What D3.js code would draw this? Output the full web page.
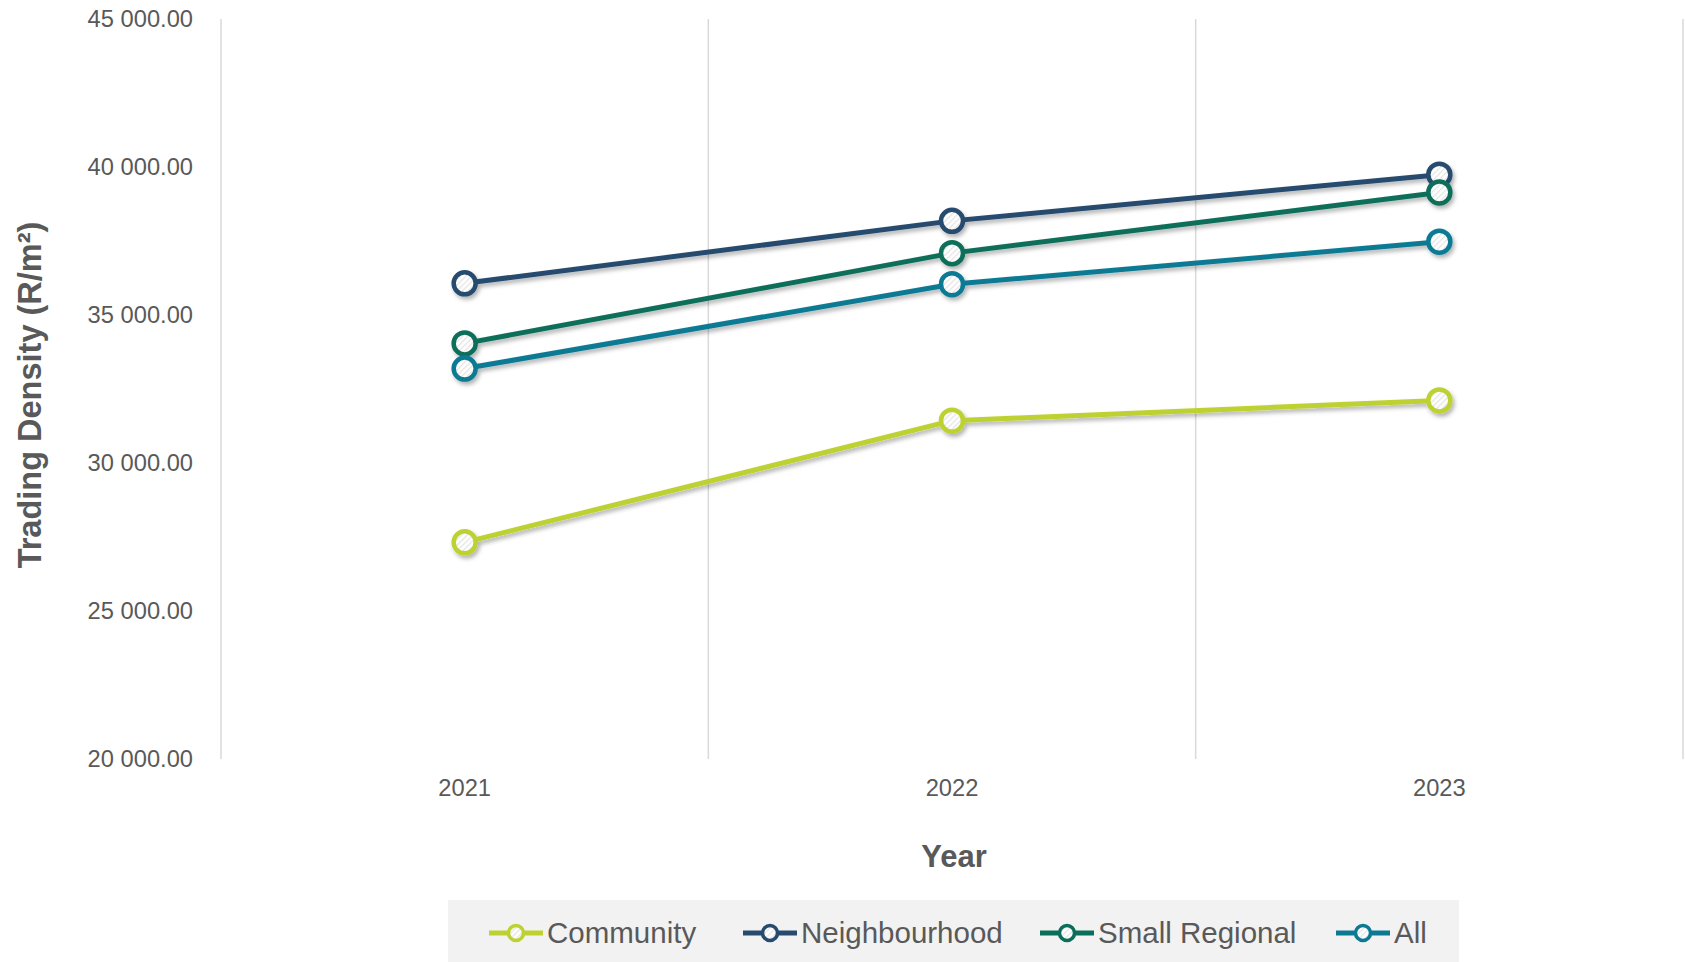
<!DOCTYPE html>
<html>
<head>
<meta charset="utf-8">
<script src="https://cdn.jsdelivr.net/npm/d3@7"></script>
<style>
  html, body { margin: 0; padding: 0; background: #ffffff; }
  svg { display: block; }
  text { font-family: "Liberation Sans", Arial, sans-serif; fill: #595959; }
</style>
</head>
<body>
<svg id="chart" width="1685" height="962"></svg>
<script>
// ---- data ----
const years = ["2021", "2022", "2023"];
const seriesNames = ["Community", "Neighbourhood", "Small Regional", "All"];
const community = [27320, 31430, 32115];
const neighbourhood = [36070, 38180, 39740];
const smallRegional = [34040, 37090, 39140];
const allCentres = [33190, 36040, 37475];
const yTicks = [20000, 25000, 30000, 35000, 40000, 45000];
const seriesColors = ["#bdd231", "#264b6e", "#0b6e5a", "#0d7a94"];

const seriesValues = [community, neighbourhood, smallRegional, allCentres];
const series = seriesNames.map((n, i) => ({ name: n, values: seriesValues[i], color: seriesColors[i] }));

// ---- layout ----
const plot = { left: 221, right: 1683, top: 19, bottom: 759 };
const legendItemX = [489, 743, 1040, 1336];
const svg = d3.select("#chart");

const locale = d3.formatLocale({ decimal: ".", thousands: " ", grouping: [3], currency: ["", ""] });
const fmt = locale.format(",.2f");

const x = d3.scaleBand().domain(years).range([plot.left, plot.right]).padding(0);
const y = d3.scaleLinear().domain([20000, 45000]).range([plot.bottom, plot.top]);
const cx = d => x(d) + x.bandwidth() / 2;

// defs: hatch pattern & shadow
const defs = svg.append("defs");
const pat = defs.append("pattern").attr("id", "hatch").attr("patternUnits", "userSpaceOnUse")
  .attr("width", 4).attr("height", 4).attr("patternTransform", "rotate(45)");
pat.append("rect").attr("width", 4).attr("height", 4).attr("fill", "#ffffff");
pat.append("rect").attr("width", 1.4).attr("height", 4).attr("fill", "#e6e6e6");

const f = defs.append("filter").attr("id", "shadow").attr("x", "-20%").attr("y", "-20%").attr("width", "140%").attr("height", "140%");
f.append("feDropShadow").attr("dx", 2).attr("dy", 3).attr("stdDeviation", 2)
  .attr("flood-color", "#000").attr("flood-opacity", 0.3);

// vertical gridlines at band edges
const edges = years.map(d => x(d)).concat([plot.right]);
svg.append("g").selectAll("line").data(edges).join("line")
  .attr("x1", d => d).attr("x2", d => d)
  .attr("y1", plot.top).attr("y2", plot.bottom)
  .attr("stroke", "#d9d9d9").attr("stroke-width", 1.5);

// y axis
const yAxis = d3.axisLeft(y).tickValues(yTicks).tickFormat(fmt).tickSize(0).tickPadding(0);
const yg = svg.append("g").attr("transform", `translate(193,0)`).call(yAxis);
yg.select(".domain").remove();
yg.selectAll("text").attr("font-size", "23.7px").attr("fill", "#595959")
  .style("font-family", '"Liberation Sans", Arial, sans-serif');

// x axis
const xAxis = d3.axisBottom(x).tickSize(0).tickPadding(0);
const xg = svg.append("g").attr("transform", `translate(0,${plot.bottom})`).call(xAxis);
xg.select(".domain").remove();
xg.selectAll("text").attr("font-size", "23.7px").attr("fill", "#595959").attr("dy", null)
  .attr("y", 37).style("font-family", '"Liberation Sans", Arial, sans-serif');

// axis titles
svg.append("text").attr("x", 954).attr("y", 867).attr("text-anchor", "middle")
  .attr("font-size", "31px").attr("font-weight", "bold").text("Year");
svg.append("text").attr("transform", "translate(41,395) rotate(-90)").attr("text-anchor", "middle")
  .attr("font-size", "32.5px").attr("font-weight", "bold").text("Trading Density (R/m²)");

// lines
const line = d3.line().x((v, i) => cx(years[i])).y(v => y(v));
const lg = svg.append("g");
const sg = lg.selectAll("g").data(series).join("g").attr("filter", "url(#shadow)");
sg.append("path").attr("d", d => line(d.values)).attr("fill", "none")
  .attr("stroke", d => d.color).attr("stroke-width", 5).attr("stroke-linejoin", "round");
sg.selectAll("circle").data(d => d.values.map((v, i) => ({ v, i, color: d.color }))).join("circle")
  .attr("cx", d => cx(years[d.i])).attr("cy", d => y(d.v)).attr("r", 11)
  .attr("fill", "url(#hatch)").attr("stroke", d => d.color).attr("stroke-width", 4.5);

// legend
svg.append("rect").attr("x", 448).attr("y", 900).attr("width", 1011).attr("height", 62).attr("fill", "#f2f2f2");
const leg = svg.append("g");
const legY = 933;
series.forEach((s, i) => {
  const lx = legendItemX[i];
  const g = leg.append("g");
  g.append("line").attr("x1", lx).attr("x2", lx + 54).attr("y1", legY).attr("y2", legY)
    .attr("stroke", s.color).attr("stroke-width", 5);
  g.append("circle").attr("cx", lx + 27).attr("cy", legY).attr("r", 7.5)
    .attr("fill", "url(#hatch)").attr("stroke", s.color).attr("stroke-width", 3.5);
  g.append("text").attr("x", lx + 58).attr("y", legY + 10).attr("font-size", "29.5px").text(s.name);
});
</script>
</body>
</html>
